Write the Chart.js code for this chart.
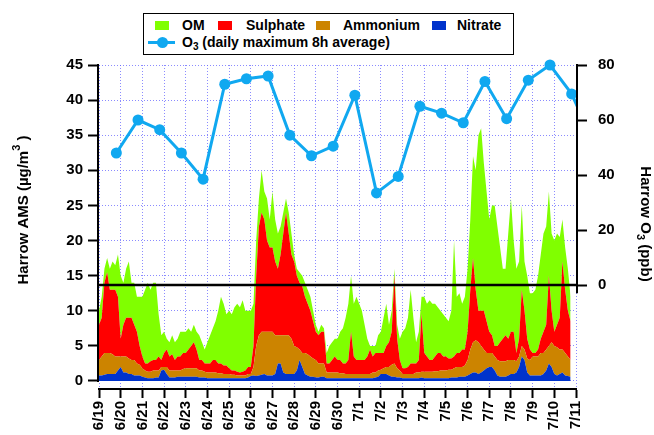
<!DOCTYPE html>
<html>
<head>
<meta charset="utf-8">
<script src="https://cdn.jsdelivr.net/npm/chart.js@4.4.0/dist/chart.umd.min.js"></script>
<style>
body { margin: 0; background: #fff; }
#wrap { position: relative; width: 654px; height: 435px; }
#legend { position: absolute; left: 143px; top: 13px; width: 369px; height: 40px; border: 1px solid #000; background: #fff;
  font: bold 14px "Liberation Sans", Arial, sans-serif; color: #000; }
#legend span { position: absolute; }
.sw { width: 14px; height: 9px; top: 7px; }
.lt { top: 3px; line-height: 16px; white-space: nowrap; }
.lt sub { font-size: 10px; vertical-align: -3px; line-height: 0; }
.o3line { left: 4px; top: 27px; width: 27px; height: 3px; background: #10a8f0; }
.o3dot { left: 13px; top: 23px; width: 11px; height: 11px; border-radius: 50%; background: #10a8f0; }
</style>
</head>
<body>
<div id="wrap">
<canvas id="c" width="654" height="435"></canvas>
<div id="legend">
  <span class="sw" style="left:11px;background:#80ff00"></span><span class="lt" style="left:38px">OM</span>
  <span class="sw" style="left:74px;background:#ff0000"></span><span class="lt" style="left:102px">Sulphate</span>
  <span class="sw" style="left:172px;background:#cc8400"></span><span class="lt" style="left:199px">Ammonium</span>
  <span class="sw" style="left:288px;background:#0033cc"></span><span class="lt" style="left:313px">Nitrate</span>
  <span class="o3line"></span><span class="o3dot"></span>
  <span class="lt" style="left:38px;top:20px">O<sub>3</sub> (daily maximum 8h average)</span>
</div>
</div>
<script>
// day labels on the time axis, 6/19 00:00 = 0
var dayLabels = ['6/19','6/20','6/21','6/22','6/23','6/24','6/25','6/26','6/27','6/28','6/29','6/30',
                 '7/1','7/2','7/3','7/4','7/5','7/6','7/7','7/8','7/9','7/10','7/11'];
var stepsPerDay = 8; // AMS values every 3 hours

// AMS mass concentrations (ug/m3), one row per day
var nitrate = [
  0.8,0.8,0.9,1,1,1,1,1.5,
  2,1.2,1.2,1,1,0.8,0.8,0.8,
  0.6,0.5,0.4,0.4,0.4,0.5,0.5,1.5,
  1.6,1,0.5,0.5,0.5,0.6,0.6,0.6,
  0.6,0.6,0.6,0.6,0.6,0.5,0.5,0.5,
  0.4,0.4,0.4,0.4,0.4,0.4,0.4,0.4,
  0.4,0.4,0.4,0.4,0.4,0.4,0.4,0.5,
  0.7,0.8,0.7,0.8,0.9,1,0.8,0.8,
  0.8,1,2.5,2.5,1.2,1,1,1,
  1,1.5,3,2,1,0.8,0.6,0.6,
  0.5,0.5,0.6,0.6,0.4,0.4,0.4,0.4,
  0.4,0.4,0.4,0.4,0.4,0.4,0.4,0.4,
  0.4,0.4,0.4,0.4,0.4,0.4,0.5,0.6,
  1,1,1,0.8,0.6,0.6,0.5,0.5,
  0.4,0.4,0.4,0.4,0.4,0.4,0.4,0.5,
  0.4,0.4,0.4,0.4,0.4,0.4,0.4,0.4,
  0.4,0.4,0.5,0.5,0.5,0.6,0.6,0.6,
  0.8,1,1.2,1.2,1,1.2,1.5,1.8,
  2,2,1.5,0.8,0.6,0.6,0.6,0.8,
  1,1,1.2,2,3.5,3,1.2,0.8,
  0.8,0.8,0.8,0.8,1,1.5,2.5,2,
  1,0.8,1,1.2,0.8,0.7,0.6
];
var ammonium = [
  2.2,2.7,3.1,3,3,2.8,2.5,2,
  1.5,2.3,2.3,2.2,2,2.2,1.7,1.5,
  1.2,1,0.9,0.9,1.1,1,1,0.5,
  0.4,1,1,1,1,0.9,0.9,1.1,
  1.2,1.2,1.2,1.2,1.2,1,1,0.8,
  0.8,0.8,0.8,0.8,0.7,0.7,0.6,0.6,
  0.6,0.5,0.5,0.4,0.4,0.4,0.4,0.5,
  0.3,1.2,4.3,5.7,6.1,6,6.2,6.2,
  6.2,5.5,4,4,5.3,5.5,5.5,5,
  4,3.3,1.5,2,3,3,2.9,2.6,
  2.5,2,1.9,1.9,0.8,0.8,0.8,0.8,
  0.8,0.7,0.7,0.6,0.6,0.6,0.6,0.6,
  0.6,0.6,0.6,0.6,0.6,0.8,0.7,0.9,
  0.6,0.8,1,1.2,1.7,1.9,1.3,1,
  0.6,0.6,0.6,0.6,0.6,0.8,0.8,0.8,
  0.9,0.9,0.9,0.9,1,1,1.1,1.1,
  1.1,1.2,1.1,1.3,1.5,1.4,1.4,1.6,
  2.2,3.5,4.3,4.6,4.5,3.8,3,2.2,
  2,2,2,2.2,2.2,2.2,2.2,2.2,
  2,2,1.6,1.5,1.5,1.5,2,2.2,
  2.7,2.7,2.7,3.2,3,3,2.5,3.5,
  4,4,3.5,3.3,3.2,2.8,2.4
];
var sulphate = [
  5,5.5,10,11.5,9,9.2,9.5,8.5,
  2.5,4.5,5.5,5.8,6,5,4.5,2.7,
  1.7,1,1.2,1.5,1.5,1.5,2,1,
  2,2.5,2,2.3,1.5,2,2,2.3,
  2.2,2.7,3.2,3.7,2.7,1.5,1.5,1.2,
  1.3,1.3,1.8,1.8,1.4,1.4,1.2,1.2,
  0.8,0.6,0.6,0.5,0.4,0.5,0.7,1,
  1,3,10,15.5,17,16,13,12,
  12,10.5,9.5,11.5,14.5,17.5,14.5,12,
  12,10.2,9.5,9.5,8,7.2,6.5,5.3,
  4,4,4.5,4.5,1.3,1.3,1.8,2.3,
  1.8,1.9,1.4,1.5,2,6,2.5,2,
  2,2,2,2.5,3.5,2.3,2.8,2.5,
  2.4,2.2,3,3.5,4.7,12.5,4.2,1.5,
  0.8,0.8,1,1.5,1.5,1.3,1.8,8.2,
  2.7,2.2,1.7,1.7,2.1,2.6,2.5,2,
  2,1.6,1.6,1.7,2,2,2.5,2.3,
  4,8.5,12,7.2,4.5,5,5.5,4.5,
  3,2.5,1.5,2,2.7,3.2,3.7,3,
  4,4,1.2,2.5,8,5.5,2.8,1.5,
  0.5,0.5,1,2,3,3.5,10,4.5,
  2,3.2,4.5,12.5,9,6.5,5.5
];
var om = [
  2,3,2,2,3,4,3.5,6,
  9,6,7,8,5,6,5,7,
  8.5,10.5,11.5,10.2,11,11,6,3.5,
  3,1.5,2,2.7,2.5,2.5,3.5,3,
  3,3,2,2.5,2.5,3.5,2.5,2,
  3,4,4.5,5.5,7.5,9.5,8.8,7.3,
  8.2,8,9,9.7,9.3,10.2,8.5,8,
  8,6,5,4,6,4,6,4,
  8,6,5,4,3,2,3,3,
  1,1,1.5,1.5,2,2,2,1.5,
  1,0.5,1,0.5,1.5,2.5,2.5,2.5,
  3,4,5,6.5,8,8,7.5,9,
  8,7,5,2.5,0.5,1.5,1,2.5,
  3,5,6,2.5,3,1,2,3,
  5.2,5.7,7,10.5,6.5,3,4,2.5,
  8,7.5,8.5,8,7.5,6.5,6,6,
  5.5,5.3,6.8,16.5,8,8.5,6.5,7.5,
  9,10,14.5,17,25,26,21,18.5,
  16,18.5,20,17,13.5,10,9.5,15,
  19,13,12,11,12,7,9,8,
  8.5,9,10.5,12,14,14,12,11,
  13,13,11.5,6,6,6,3.5
];

// O3 daily maximum 8h average (ppb), one per day from 6/19
var o3 = [48,60,56.5,48,38.5,73,75,76,54.5,47,50.5,69,33.5,39.5,65,62.5,59,74,60.5,74.5,80,69.5,52];
var o3Offset = 0.8; // plotted late in each day

var yTicks = [0,5,10,15,20,25,30,35,40,45];
var y2Ticks = [0,20,40,60,80];

var gridColor = 'rgba(100,100,255,0.75)';
var o3Color = '#10a8f0';
var fontFam = '"Liberation Sans", Arial, sans-serif';

function series(vals) {
  return vals.map(function (v, i) { return { x: i / stepsPerDay, y: v }; });
}
var o3Points = o3.map(function (v, i) { return { x: i + o3Offset, y: v }; });

Chart.defaults.font.family = fontFam;
Chart.defaults.font.size = 15;
Chart.defaults.font.weight = 'bold';
Chart.defaults.color = '#000';

// rotated title made of pieces: [text, size, shift]
function drawTitle(c, x, y, angle, parts) {
  var total = 0;
  c.save();
  c.fillStyle = '#000';
  c.textBaseline = 'alphabetic';
  c.textAlign = 'left';
  parts.forEach(function (p) { c.font = 'bold ' + p[1] + 'px ' + fontFam; p.w = c.measureText(p[0]).width; total += p.w; });
  c.translate(x, y);
  c.rotate(angle);
  var pos = -total / 2;
  parts.forEach(function (p) {
    c.font = 'bold ' + p[1] + 'px ' + fontFam;
    c.fillText(p[0], pos, 5 + p[2]);
    pos += p.w;
  });
  c.restore();
}

// axis lines, O3 zero line and axis titles
var harrowAxes = {
  id: 'harrowAxes',
  afterDatasetsDraw: function (chart) {
    var c = chart.ctx, a = chart.chartArea, y = chart.scales.y, y2 = chart.scales.y2;
    c.save();
    c.strokeStyle = '#000';
    c.lineWidth = 2.5;
    c.beginPath();
    c.moveTo(a.left, y2.getPixelForValue(0));
    c.lineTo(a.right, y2.getPixelForValue(0));
    c.stroke();
    c.lineWidth = 2;
    c.beginPath();
    c.moveTo(a.left - 1, y.getPixelForValue(45) - 1);
    c.lineTo(a.left - 1, y.getPixelForValue(0) + 1);
    c.moveTo(a.right + 1, y2.getPixelForValue(80) - 1);
    c.lineTo(a.right + 1, y2.getPixelForValue(-3));
    c.stroke();
    c.restore();
  },
  afterDraw: function (chart) {
    var c = chart.ctx;
    drawTitle(c, 23, 210, -Math.PI / 2, [['Harrow AMS (\u00b5g/m', 15, 0], ['3', 11, -8], [' )', 15, 0]]);
    drawTitle(c, 646, 224, Math.PI / 2, [['Harrow O', 15, 0], ['3', 11, 4], [' (ppb)', 15, 0]]);
  }
};

var ctx = document.getElementById('c').getContext('2d');
var chart = new Chart(ctx, {
  type: 'line',
  data: {
    datasets: [
      { label: 'O3', data: o3Points, yAxisID: 'y2', borderColor: o3Color, backgroundColor: o3Color,
        borderWidth: 3, pointRadius: 5.5, pointBorderWidth: 0, pointBackgroundColor: o3Color,
        fill: false, clip: { left: 10, top: 10, right: 0, bottom: 10 } },
      { label: 'Nitrate', data: series(nitrate), yAxisID: 'y', backgroundColor: '#0033cc', fill: 'origin' },
      { label: 'Ammonium', data: series(ammonium), yAxisID: 'y', backgroundColor: '#cc8400', fill: '-1' },
      { label: 'Sulphate', data: series(sulphate), yAxisID: 'y', backgroundColor: '#ff0000', fill: '-1' },
      { label: 'OM', data: series(om), yAxisID: 'y', backgroundColor: '#80ff00', fill: '-1' }
    ]
  },
  options: {
    responsive: false,
    animation: false,
    layout: { padding: { top: 65, left: 0, right: 0, bottom: 0 } },
    plugins: { legend: { display: false }, tooltip: { enabled: false } },
    elements: { line: { borderWidth: 0, tension: 0 }, point: { radius: 0 } },
    scales: {
      x: {
        type: 'linear', min: 0, max: 22,
        afterBuildTicks: function (s) { s.ticks = dayLabels.map(function (d, i) { return { value: i }; }); },
        afterFit: function (s) { s.height = 46; },
        ticks: { autoSkip: false, minRotation: 90, maxRotation: 90, padding: 3,
                 callback: function (v) { return dayLabels[v]; } },
        grid: { color: gridColor, lineWidth: 1, tickColor: '#000', tickWidth: 2, tickLength: 9, tickBorderDash: [] },
        border: { display: true, color: '#000', width: 2, dash: [1, 2] }
      },
      y: {
        position: 'left', stacked: true, min: -1.14, max: 45,
        afterBuildTicks: function (s) { s.ticks = yTicks.map(function (v) { return { value: v }; }); },
        afterFit: function (s) { s.width = 99; },
        ticks: { padding: 5 },
        grid: { color: gridColor, lineWidth: 1, tickColor: '#000', tickWidth: 2, tickLength: 11, tickBorderDash: [] },
        border: { display: false, dash: [1, 2] }
      },
      y2: {
        position: 'right', min: -37.8, max: 80,
        afterBuildTicks: function (s) { s.ticks = y2Ticks.map(function (v) { return { value: v }; }); },
        afterFit: function (s) { s.width = 78; },
        ticks: { padding: 11 },
        grid: { drawOnChartArea: false, tickColor: '#000', tickWidth: 2, tickLength: 11, tickBorderDash: [] },
        border: { display: false }
      }
    }
  },
  plugins: [harrowAxes]
});
</script>
</body>
</html>
